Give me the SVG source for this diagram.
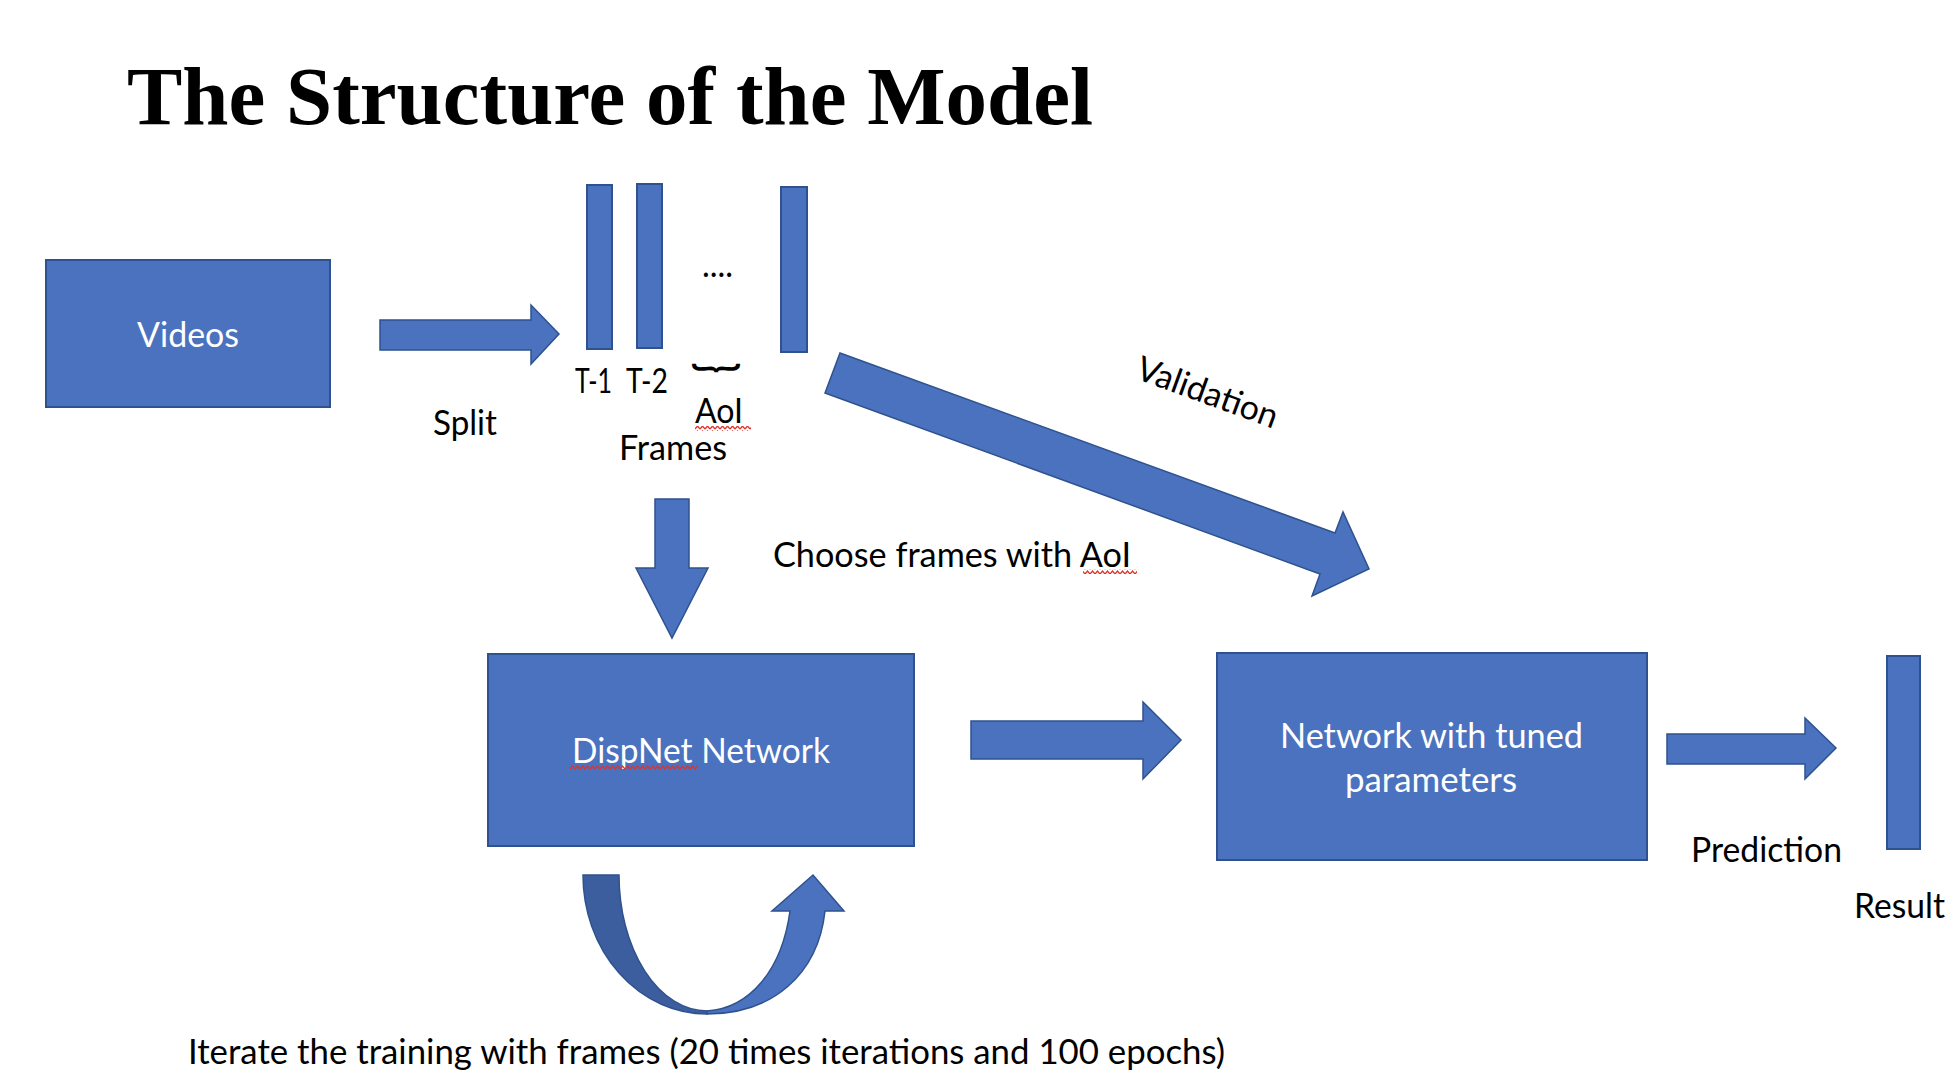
<svg xmlns="http://www.w3.org/2000/svg" width="1958" height="1084" viewBox="0 0 1958 1084">
<style>
.t{font-family:Lato,"Open Sans","Liberation Sans",sans-serif;font-size:34px;fill:#000}
.w{fill:#fff}
.box{fill:#4a72be;stroke:#2f528f;stroke-width:2}
.arr{fill:#4a72be;stroke:#2f528f;stroke-width:1.5;stroke-linejoin:miter}
.title{font-family:"Liberation Serif","Times New Roman",serif;font-weight:bold;font-size:83px;fill:#000}
</style>
<defs>
<pattern id="squig" x="0" y="0" width="5" height="5" patternUnits="userSpaceOnUse">
<path d="M0 4 L2.5 1 L5 4" fill="none" stroke="#e0322a" stroke-width="1.3"/>
</pattern>
</defs>
<rect width="1958" height="1084" fill="#fff"/>
<text class="title" x="127" y="124" textLength="966" lengthAdjust="spacingAndGlyphs">The Structure of the Model</text>

<g id="videos">
<rect class="box" x="46" y="260" width="284" height="147"/>
<text class="t w" x="188" y="347" text-anchor="middle" textLength="102" lengthAdjust="spacingAndGlyphs">Videos</text>
</g>

<g id="frames">
<rect class="box" x="587" y="185" width="25" height="164"/>
<rect class="box" x="637" y="184" width="25" height="164"/>
<rect class="box" x="781" y="187" width="26" height="165"/>
<text class="t" x="702" y="277" textLength="31" lengthAdjust="spacingAndGlyphs">....</text>
<text class="t" x="575" y="393" font-size="30" textLength="37" lengthAdjust="spacingAndGlyphs">T-1</text>
<text class="t" x="626" y="393" font-size="30" textLength="42" lengthAdjust="spacingAndGlyphs">T-2</text>
<text class="t" transform="translate(720,368) rotate(90) scale(1,1.5)" text-anchor="middle" dominant-baseline="central" font-size="44" font-weight="bold">}</text>
<text class="t" x="695" y="423" textLength="48" lengthAdjust="spacingAndGlyphs">AoI</text>
<rect x="695" y="426" width="56" height="5" fill="url(#squig)"/>
<text class="t" x="619" y="460" textLength="108" lengthAdjust="spacingAndGlyphs">Frames</text>
</g>

<g id="dispnet">
<rect class="box" x="488" y="654" width="426" height="192"/>
<text class="t w" x="572" y="763" textLength="258" lengthAdjust="spacingAndGlyphs">DispNet Network</text>
<rect x="570" y="765" width="128" height="5" fill="url(#squig)"/>
</g>

<g id="tuned">
<rect class="box" x="1217" y="653" width="430" height="207"/>
<text class="t w" x="1280" y="748" textLength="303" lengthAdjust="spacingAndGlyphs">Network with tuned</text>
<text class="t w" x="1345" y="792" textLength="172" lengthAdjust="spacingAndGlyphs">parameters</text>
</g>

<g id="result">
<rect class="box" x="1887" y="656" width="33" height="193"/>
<text class="t" x="1854" y="918" textLength="91" lengthAdjust="spacingAndGlyphs">Result</text>
</g>

<g id="connectors">
<polygon class="arr" points="380,320 531,320 531,305 559,334 531,364 531,350 380,350"/>
<text class="t" x="433" y="435" textLength="64" lengthAdjust="spacingAndGlyphs">Split</text>

<polygon class="arr" points="655,499 689,499 689,568 708,568 672,638 636,568 655,568"/>
<text class="t" x="773" y="567" textLength="358" lengthAdjust="spacingAndGlyphs">Choose frames with AoI</text>
<rect x="1083" y="569" width="54" height="5" fill="url(#squig)"/>

<polygon class="arr" points="840,353 1335,533 1343,512 1369,569 1312,596 1320,574 825,393"/>
<text class="t" transform="translate(1134,378) rotate(20)" textLength="148" lengthAdjust="spacingAndGlyphs">Validation</text>

<polygon class="arr" points="971,721 1143,721 1143,702 1181,740 1143,779 1143,759 971,759"/>

<polygon class="arr" points="1667,734 1805,734 1805,718 1836,748 1805,779 1805,764 1667,764"/>
<text class="t" x="1691" y="862" textLength="151" lengthAdjust="spacingAndGlyphs">Prediction</text>

<path d="M583 875 L619 875 A88 136 0 0 0 707 1011 L707 1014 A124 139 0 0 1 583 875 Z" fill="#3d5e9e" stroke="#2f528f" stroke-width="1.5"/>
<path class="arr" d="M707 1011 C750 1008 782 970 790 911 L772 911 L813 875 L844 911 L825 911 C818 975 772 1014 707 1014 Z"/>
<text class="t" x="188" y="1064" font-size="35" textLength="1037" lengthAdjust="spacingAndGlyphs">Iterate the training with frames (20 times iterations and 100 epochs)</text>
</g>
</svg>
